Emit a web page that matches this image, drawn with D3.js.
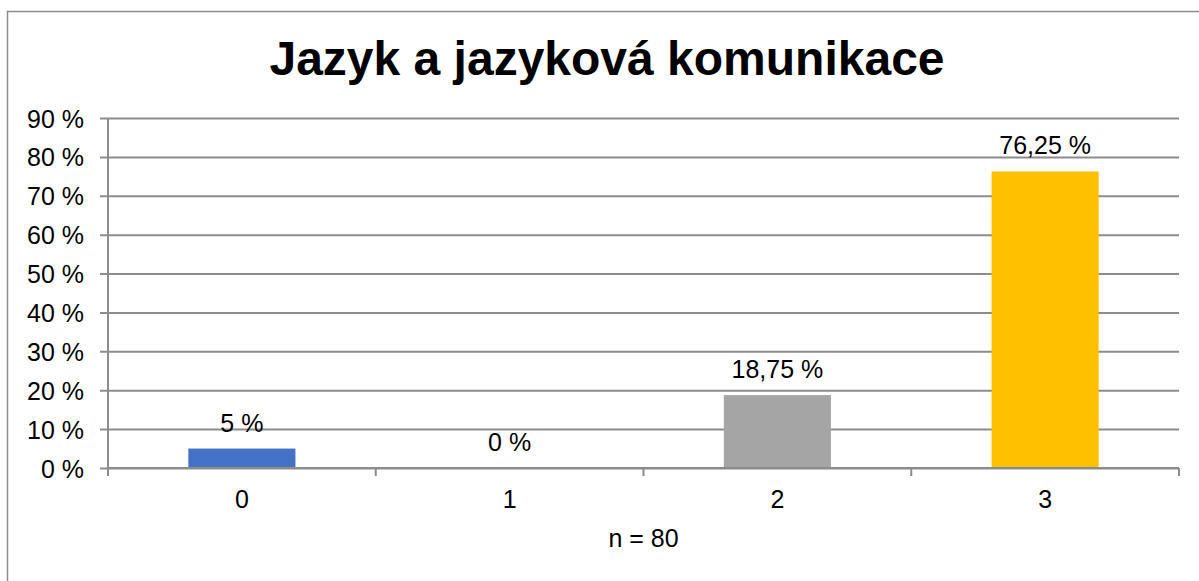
<!DOCTYPE html>
<html>
<head>
<meta charset="utf-8">
<script src="https://cdn.jsdelivr.net/npm/d3@7"></script>
<style>
  body { margin: 0; background: #fff; }
  svg { display: block; font-family: "Liberation Sans", Arial, sans-serif; }
</style>
</head>
<body>
<div id="wrapper"></div>
<script>
// data
const categories = ["0", "1", "2", "3"]
const values = [5, 0, 18.75, 76.25]
const valueLabels = ["5 %", "0 %", "18,75 %", "76,25 %"]
const barColors = ["#4472c4", "#ed7d31", "#a5a5a5", "#ffc000"]
const yTicks = [0, 10, 20, 30, 40, 50, 60, 70, 80, 90]
const titleText = "Jazyk a jazyková komunikace"
const xTitle = "n = 80"

function drawBars() {
  const dimensions = {
    width: 1199,
    height: 581,
    margin: { top: 118, right: 20, bottom: 113, left: 108 }
  }
  dimensions.boundedWidth = dimensions.width - dimensions.margin.left - dimensions.margin.right
  dimensions.boundedHeight = dimensions.height - dimensions.margin.top - dimensions.margin.bottom

  const wrapper = d3.select("#wrapper")
    .append("svg")
      .attr("width", dimensions.width)
      .attr("height", dimensions.height)

  // chart border (cut off at right and bottom)
  wrapper.append("rect")
      .attr("x", 7.5)
      .attr("y", 11.5)
      .attr("width", 1300)
      .attr("height", 700)
      .attr("fill", "none")
      .attr("stroke", "#8c8c8c")
      .attr("stroke-width", 1.5)

  wrapper.append("text")
      .attr("x", 607)
      .attr("y", 75)
      .attr("text-anchor", "middle")
      .style("font-size", "48px")
      .style("font-weight", "bold")
      .text(titleText)

  const bounds = wrapper.append("g")
      .attr("transform", `translate(${dimensions.margin.left}, ${dimensions.margin.top})`)

  const xScale = d3.scaleBand()
      .domain(categories)
      .range([0, dimensions.boundedWidth])
      .paddingInner(0.6)
      .paddingOuter(0.3)

  const yScale = d3.scaleLinear()
      .domain([0, 90])
      .range([dimensions.boundedHeight, 0])

  // gridlines + y axis
  const yAxisGenerator = d3.axisLeft(yScale)
      .tickValues(yTicks)
      .tickSize(-dimensions.boundedWidth)
      .tickFormat(d => d + " %")

  const yAxis = bounds.append("g").call(yAxisGenerator)
  yAxis.select(".domain").remove()
  yAxis.selectAll(".tick line")
      .attr("x1", -8)
      .attr("stroke", "#8c8c8c")
      .attr("stroke-width", 2)
  yAxis.selectAll(".tick text")
      .attr("x", -24)
      .attr("dy", "0.36em")
      .attr("fill", "#000")
      .style("font-size", "25px")

  // y axis line
  bounds.append("line")
      .attr("x1", 0).attr("x2", 0)
      .attr("y1", 0).attr("y2", dimensions.boundedHeight + 8)
      .attr("stroke", "#8c8c8c")
      .attr("stroke-width", 2)

  // bars
  bounds.selectAll(".bar")
      .data(values)
    .enter().append("rect")
      .attr("class", "bar")
      .attr("x", (d, i) => xScale(categories[i]))
      .attr("y", d => yScale(d))
      .attr("width", xScale.bandwidth())
      .attr("height", d => dimensions.boundedHeight - yScale(d))
      .attr("fill", (d, i) => barColors[i])

  // x axis
  const xAxis = bounds.append("g")
      .attr("transform", `translate(0, ${dimensions.boundedHeight})`)
  xAxis.append("line")
      .attr("x1", 0).attr("x2", dimensions.boundedWidth)
      .attr("stroke", "#8c8c8c")
      .attr("stroke-width", 2)
  const seps = [0, ...categories.map(c => xScale(c) + xScale.bandwidth() / 2 + xScale.step() / 2)]
  xAxis.selectAll(".sep")
      .data(seps)
    .enter().append("line")
      .attr("x1", d => d).attr("x2", d => d)
      .attr("y1", 0).attr("y2", 8)
      .attr("stroke", "#8c8c8c")
      .attr("stroke-width", 2)
  xAxis.selectAll(".cat")
      .data(categories)
    .enter().append("text")
      .attr("x", d => xScale(d) + xScale.bandwidth() / 2)
      .attr("y", 40)
      .attr("text-anchor", "middle")
      .style("font-size", "25px")
      .text(d => d)

  xAxis.append("text")
      .attr("x", dimensions.boundedWidth / 2)
      .attr("y", 79)
      .attr("text-anchor", "middle")
      .style("font-size", "25px")
      .text(xTitle)

  // data labels
  bounds.selectAll(".lbl")
      .data(values)
    .enter().append("text")
      .attr("x", (d, i) => xScale(categories[i]) + xScale.bandwidth() / 2)
      .attr("y", d => yScale(d) - 17)
      .attr("text-anchor", "middle")
      .style("font-size", "25px")
      .text((d, i) => valueLabels[i])
}
drawBars()
</script>
</body>
</html>
